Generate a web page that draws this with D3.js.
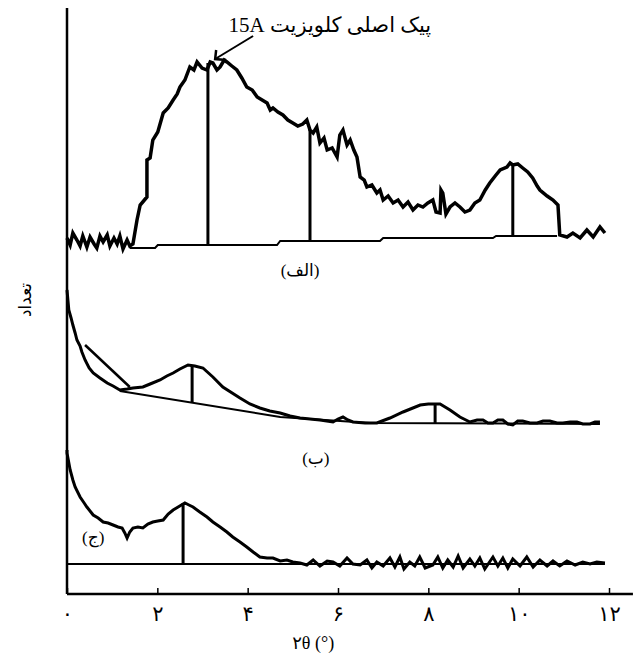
<!DOCTYPE html>
<html>
<head>
<meta charset="utf-8">
<script src="https://cdn.jsdelivr.net/npm/d3@7"></script>
<style>
    body { margin: 0; background: #fff; }
    text { font-family: "Liberation Serif", "DejaVu Sans", serif; fill: #000; }
</style>
</head>
<body>
<svg width="636" height="657"></svg>
<script>
// 2theta (deg), counts (arbitrary units)
var xTicks = [0, 2, 4, 6, 8, 10, 12];

var curveA = [[0.00,178],[0.07,174.5],[0.13,180.5],[0.22,177],[0.29,174],[0.35,179],[0.44,173.5],[0.51,178.5],[0.60,175],[0.66,173],
    [0.73,179],[0.80,176],[0.89,179.5],[0.95,174],[1.04,178],[1.11,175],[1.17,179],[1.24,172.5],[1.33,177],[1.39,174],[1.46,175],
    [1.55,187],[1.62,194.5],[1.77,198.5],[1.77,217],[1.84,218],[1.90,227],[2.01,231],[2.13,240.5],[2.24,243],[2.35,247],[2.44,250],
    [2.50,253.5],[2.61,257],[2.72,263.5],[2.81,262],[2.88,266],[2.99,263],[3.10,262],[3.17,266],[3.23,265.5],[3.32,262],[3.39,263.5],
    [3.48,267],[3.54,266],[3.65,264],[3.76,262],[3.87,258],[3.98,253.5],[4.10,252],[4.21,248.5],[4.32,247],[4.43,245.5],[4.50,242],
    [4.56,243],[4.67,241],[4.78,239.5],[4.89,237],[5.00,235.5],[5.11,234],[5.22,235],[5.31,237],[5.38,232],[5.45,230.5],[5.53,233.5],
    [5.60,225.5],[5.69,228],[5.76,222],[5.87,223],[5.98,218.5],[6.04,229.5],[6.11,232],[6.20,224.5],[6.27,227],[6.35,222],[6.42,218.5],
    [6.49,208.5],[6.58,207],[6.64,203.5],[6.75,204.5],[6.86,200.5],[6.93,202],[7.00,197],[7.11,199],[7.22,195.5],[7.33,197],[7.44,193.5],
    [7.55,196],[7.66,192],[7.77,194.5],[7.88,193.5],[7.99,195.5],[8.10,197],[8.17,191],[8.26,190.5],[8.28,202],[8.32,200.5],[8.39,190],
    [8.48,193.5],[8.59,195.5],[8.70,193.5],[8.81,191],[8.92,192],[9.03,195.5],[9.14,197],[9.26,202],[9.36,205.5],[9.48,209],[9.59,212],
    [9.74,213.5],[9.81,215.5],[9.87,214.5],[9.98,215],[10.09,213],[10.20,211],[10.31,208],[10.41,204],[10.47,202],[10.63,199],[10.76,197],
    [10.87,194.5],[10.91,179.5],[11.07,178.5],[11.20,180.5],[11.36,178],[11.51,182],[11.65,178.5],[11.80,183.5],[11.91,180.5]];
var baseA = [[1.39,173],[1.95,173],[2.01,174.5],[4.65,174.5],[4.72,176.5],[6.93,176.5],[7.00,178],[9.43,178],[9.50,179],[10.85,179]];
var dropsA = [[3.12,265.5,174.5],[5.38,232,176.5],[9.87,214.5,179]];

var curveB = [[0.00,152],[0.02,147],[0.04,142],[0.09,138],[0.13,134.5],[0.18,130.5],[0.22,127],[0.29,124],[0.33,121],[0.40,117],
    [0.49,113],[0.58,110.5],[0.73,108],[0.89,105.5],[1.02,104],[1.17,102],[1.33,102.5],[1.46,103],[1.68,103.5],[1.84,105],[2.06,107],
    [2.21,109],[2.35,110.5],[2.50,112.5],[2.68,114.5],[2.83,114],[3.01,113],[3.23,108.5],[3.45,103.5],[3.83,98],[4.05,95],[4.27,93],
    [4.49,91.5],[4.72,90.5],[4.94,89],[5.16,88],[5.38,87.5],[5.60,87],[5.89,86],[6.00,87.5],[6.11,88.5],[6.22,87],[6.33,86],[6.60,85.5],
    [6.86,85.5],[7.15,88],[7.44,91],[7.82,94.5],[8.00,95],[8.26,95],[8.48,92],[8.70,88.5],[8.92,86],[9.08,87],[9.21,87],[9.32,85.5],
    [9.43,85.5],[9.54,87],[9.65,87],[9.76,85],[9.87,84.5],[9.98,86.5],[10.09,86.5],[10.25,85.5],[10.41,85.5],[10.54,86.5],[10.69,86.5],
    [10.85,85.5],[10.98,85.5],[11.14,86],[11.29,86],[11.42,85],[11.58,85],[11.69,86],[11.80,86]];
var baseB = [[1.17,101.5],[4.72,88.5],[6.71,85.5],[11.80,85]];
var fitB = [[0.40,124.5],[1.39,103.5]];
var dropsB = [[2.77,114.5,96],[8.15,95,85.5]];

var curveC = [[0.00,72],[0.00,70.5],[0.07,62],[0.13,57],[0.18,53.5],[0.29,48.5],[0.38,45.5],[0.44,43.5],[0.58,39.5],[0.69,38],
    [0.80,36],[0.91,35.5],[1.02,34.5],[1.13,33.5],[1.22,33],[1.28,30.5],[1.33,28],[1.39,31],[1.46,33],[1.57,33.5],[1.68,33],[1.79,35],
    [1.90,36],[2.01,36.5],[2.13,37],[2.24,40],[2.35,42],[2.46,43.5],[2.61,45.5],[2.70,44.5],[2.79,43.5],[2.94,41],[3.10,38.5],[3.23,36],
    [3.39,33.5],[3.54,31],[3.67,28.5],[3.83,26],[3.98,23.5],[4.12,21],[4.27,18.5],[4.43,18],[4.56,18],[4.72,16.5],[4.87,17],[5.00,16],
    [5.16,15.5],[5.31,14.5],[5.45,17],[5.60,14],[5.76,16.5],[5.89,16],[6.04,14],[6.20,18],[6.33,15],[6.49,14.5],[6.64,17],[6.75,13],
    [6.86,16],[7.00,14],[7.15,18],[7.26,13.5],[7.37,18.5],[7.46,12.5],[7.59,16],[7.70,14],[7.81,18.5],[7.93,13],[8.10,14.5],[8.21,18.5],
    [8.32,13],[8.43,17],[8.55,13.5],[8.66,19],[8.77,13],[8.92,17.5],[9.03,14],[9.14,18],[9.25,12.5],[9.43,18.5],[9.54,14],[9.65,18],
    [9.76,13],[9.87,17.5],[10.03,14],[10.18,18.5],[10.32,13.5],[10.47,17],[10.63,14],[10.76,16.5],[10.91,14],[11.07,16.5],[11.25,14.5],
    [11.42,16],[11.58,15],[11.73,16],[11.91,15.5]];
var baseC = [[0.00,15],[11.91,15]];
var dropsC = [[2.57,45.5,15]];

var panelLabels = [["(الف)", 5.16, 162], ["(ب)", 5.51, 68], ["(ج)", 0.58, 28.5]];
var peakNote = "پیک اصلی کلویزیت 15A";

var persian = function (s) {
    return String(s).replace(/[0-9]/g, function (d) { return "۰۱۲۳۴۵۶۷۸۹"[+d]; });
};

var svg = d3.select("svg");
var x = d3.scaleLinear().domain([0, 12]).range([67, 609]);
var y = d3.scaleLinear().domain([0, 290]).range([594, 14]);
var line = d3.line().x(function (d) { return x(d[0]); }).y(function (d) { return y(d[1]); });

// frame
svg.append("line").attr("x1", x(0)).attr("x2", x(0)).attr("y1", y(0)).attr("y2", 8)
    .attr("stroke", "#000").attr("stroke-width", 2.5);

var xAxis = svg.append("g")
    .attr("transform", "translate(0," + y(0) + ")")
    .call(d3.axisBottom(x).tickValues(xTicks).tickSizeInner(-6).tickSizeOuter(0).tickPadding(12)
        .tickFormat(persian));
xAxis.select(".domain").remove();
xAxis.selectAll(".tick line").attr("stroke", "#000").attr("stroke-width", 1.5);
xAxis.selectAll(".tick text").style("font-size", "21px").style("font-family", "'Liberation Serif','DejaVu Sans',serif");
xAxis.append("line").attr("x1", x(0)).attr("x2", x(12.53)).attr("y1", 0).attr("y2", 0)
    .attr("stroke", "#000").attr("stroke-width", 2.5);

svg.append("text").attr("x", x(5.45)).attr("y", 649).attr("text-anchor", "middle")
    .style("font-size", "18px").text("۲θ (°)");

svg.append("text").attr("transform", "translate(31,300) rotate(-90)").attr("text-anchor", "middle")
    .style("font-size", "17px").text("تعداد");

// curves
[[curveA, baseA, dropsA, 3.5], [curveB, baseB, dropsB, 3], [curveC, baseC, dropsC, 3]].forEach(function (s) {
    svg.append("path").datum(s[1]).attr("d", line)
        .attr("fill", "none").attr("stroke", "#000").attr("stroke-width", 2);
    svg.selectAll(null).data(s[2]).enter().append("line")
        .attr("x1", function (d) { return x(d[0]); }).attr("x2", function (d) { return x(d[0]); })
        .attr("y1", function (d) { return y(d[1]); }).attr("y2", function (d) { return y(d[2]); })
        .attr("stroke", "#000").attr("stroke-width", 3);
    svg.append("path").datum(s[0]).attr("d", line)
        .attr("fill", "none").attr("stroke", "#000").attr("stroke-width", s[3]).attr("stroke-linejoin", "miter");
});
svg.append("path").datum(fitB).attr("d", line)
    .attr("fill", "none").attr("stroke", "#000").attr("stroke-width", 2.5);

svg.selectAll(".plabel").data(panelLabels).enter().append("text")
    .attr("class", "plabel")
    .attr("x", function (d) { return x(d[1]); }).attr("y", function (d) { return y(d[2]); })
    .attr("text-anchor", "middle").attr("dy", "0.35em").attr("direction", "rtl")
    .style("font-size", "17px").text(function (d) { return d[0]; });

// annotation
svg.append("text").attr("x", x(5.82)).attr("y", y(284.5)).attr("dy", "0.35em")
    .attr("text-anchor", "middle").attr("direction", "rtl").style("unicode-bidi", "embed")
    .style("font-size", "21px").text(peakNote);

var ax0 = [4.12, 279], ax1 = [3.28, 267.5];
svg.append("line").attr("x1", x(ax0[0])).attr("y1", y(ax0[1])).attr("x2", x(ax1[0])).attr("y2", y(ax1[1]))
    .attr("stroke", "#000").attr("stroke-width", 2);
svg.append("path")
    .attr("d", "M" + (x(ax1[0]) + 1) + "," + (y(ax1[1]) - 9) + "L" + x(ax1[0]) + "," + y(ax1[1]) + "L" + (x(ax1[0]) + 11) + "," + (y(ax1[1]) + 1))
    .attr("fill", "none").attr("stroke", "#000").attr("stroke-width", 2.5);
</script>
</body>
</html>
